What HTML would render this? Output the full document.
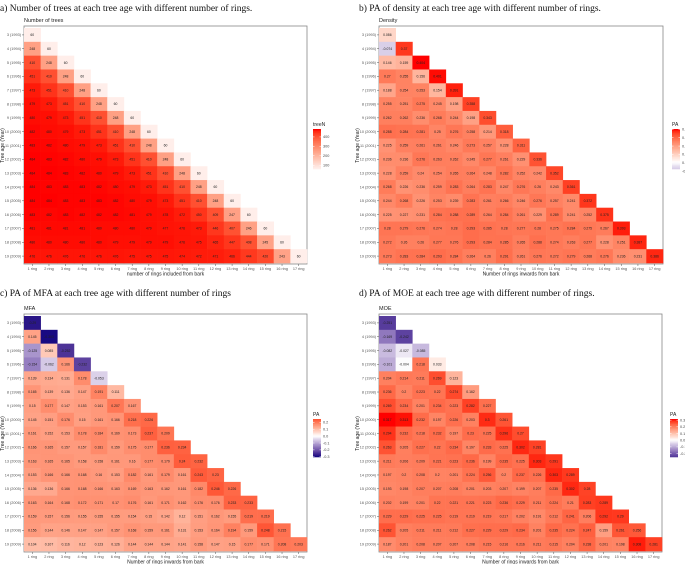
<!DOCTYPE html>
<html><head><meta charset="utf-8"><style>
html,body{margin:0;padding:0;background:#fff;}
svg{display:block;font-family:"Liberation Sans",sans-serif;}
.ttl{font-family:"Liberation Serif",serif;font-size:9.5px;fill:#111;}
</style></head><body>
<svg id="chart" width="685" height="564" viewBox="0 0 685 564" xmlns="http://www.w3.org/2000/svg"></svg>
<script>
const rowLabels=["3 (1993)","4 (1994)","5 (1995)","6 (1996)","7 (1997)","8 (1998)","9 (1999)","10 (2000)","11 (2001)","12 (2002)","13 (2003)","14 (2004)","15 (2005)","16 (2006)","17 (2007)","18 (2008)","19 (2009)"];
const colLabels=["1 ring","2 ring","3 ring","4 ring","5 ring","6 ring","7 ring","8 ring","9 ring","10 ring","11 ring","12 ring","13 ring","14 ring","15 ring","16 ring","17 ring"];
const treeN=[[60],[248,60],[410,248,60],[451,410,248,60],[473,451,410,248,60],[479,473,451,410,248,60],[480,479,473,451,410,248,60],[482,480,479,473,451,410,248,60],[483,482,480,479,473,451,410,248,60],[484,483,482,480,479,473,451,410,248,60],[484,484,483,482,480,479,473,451,410,248,60],[484,483,483,483,482,480,479,473,451,410,248,60],[484,484,483,483,483,482,480,479,473,451,410,248,60],[483,482,483,482,482,482,481,479,478,472,450,409,247,60],[481,481,481,481,480,480,480,479,477,476,473,446,407,246,60],[480,480,480,480,480,479,479,479,479,476,475,465,447,408,245,60],[476,476,476,476,476,476,475,475,475,474,472,471,466,444,420,243,60]];
const densityPA=[[0.086],[-0.074,0.37],[0.146,0.159,0.404],[0.27,0.255,0.156,0.401],[0.188,0.254,0.253,0.154,0.391],[0.255,0.251,0.275,0.245,0.198,0.358],[0.262,0.262,0.236,0.268,0.244,0.198,0.343],[0.288,0.284,0.281,0.25,0.276,0.258,0.214,0.318],[0.225,0.259,0.261,0.261,0.246,0.273,0.257,0.228,0.311],[0.236,0.236,0.276,0.263,0.262,0.245,0.277,0.261,0.229,0.336],[0.228,0.259,0.24,0.254,0.265,0.264,0.248,0.282,0.252,0.242,0.352],[0.268,0.226,0.236,0.259,0.283,0.264,0.283,0.247,0.276,0.26,0.243,0.361],[0.244,0.268,0.226,0.253,0.239,0.283,0.261,0.266,0.246,0.276,0.257,0.241,0.372],[0.225,0.227,0.231,0.284,0.288,0.289,0.264,0.284,0.261,0.229,0.289,0.241,0.252,0.375],[0.28,0.279,0.276,0.274,0.28,0.293,0.285,0.28,0.277,0.28,0.275,0.284,0.275,0.267,0.393],[0.272,0.26,0.26,0.277,0.276,0.293,0.284,0.285,0.265,0.288,0.274,0.263,0.277,0.228,0.251,0.387],[0.273,0.283,0.284,0.293,0.284,0.264,0.26,0.291,0.261,0.276,0.272,0.279,0.268,0.276,0.236,0.231,0.386]];
const mfaPA=[[-0.29],[0.145,-0.303],[-0.125,0.085,-0.252],[-0.154,-0.062,0.166,-0.232],[0.139,0.134,0.131,0.178,-0.053],[0.165,0.139,0.136,0.147,0.191,0.111],[0.15,0.177,0.147,0.153,0.161,0.207,0.167],[0.145,0.151,0.176,0.15,0.161,0.166,0.218,0.226],[0.161,0.152,0.153,0.178,0.184,0.169,0.173,0.237,0.209],[0.166,0.165,0.157,0.157,0.181,0.159,0.175,0.177,0.236,0.234],[0.163,0.165,0.165,0.158,0.158,0.161,0.16,0.177,0.179,0.24,0.232],[0.153,0.166,0.166,0.168,0.16,0.153,0.182,0.161,0.179,0.161,0.243,0.23],[0.136,0.136,0.166,0.168,0.166,0.163,0.169,0.163,0.162,0.161,0.182,0.246,0.226],[0.163,0.164,0.168,0.172,0.171,0.17,0.176,0.161,0.171,0.162,0.176,0.176,0.233,0.233],[0.159,0.157,0.156,0.155,0.155,0.155,0.154,0.15,0.142,0.12,0.151,0.162,0.155,0.219,0.219],[0.156,0.144,0.146,0.147,0.147,0.157,0.168,0.159,0.161,0.131,0.153,0.164,0.194,0.159,0.248,0.215],[0.104,0.107,0.116,0.12,0.123,0.126,0.144,0.144,0.144,0.141,0.158,0.147,0.15,0.177,0.171,0.208,0.203]];
const moePA=[[-0.251],[-0.169,-0.242],[-0.082,-0.027,-0.085],[-0.101,-0.004,0.218,0.033],[0.204,0.214,0.211,0.269,0.123],[0.236,0.2,0.223,0.22,0.274,0.162],[0.269,0.234,0.201,0.234,0.223,0.282,0.227],[0.317,0.313,0.232,0.197,0.226,0.203,0.3,0.261],[0.294,0.232,0.218,0.232,0.197,0.23,0.225,0.296,0.27],[0.263,0.205,0.227,0.22,0.234,0.197,0.233,0.225,0.302,0.281],[0.211,0.206,0.209,0.221,0.223,0.236,0.199,0.235,0.225,0.303,0.291],[0.197,0.2,0.208,0.2,0.201,0.224,0.256,0.2,0.237,0.226,0.303,0.289],[0.193,0.198,0.207,0.207,0.208,0.201,0.203,0.207,0.199,0.207,0.235,0.302,0.28],[0.202,0.199,0.201,0.22,0.221,0.221,0.223,0.236,0.229,0.211,0.224,0.21,0.283,0.289],[0.229,0.229,0.225,0.225,0.219,0.219,0.219,0.217,0.202,0.191,0.212,0.241,0.206,0.292,0.29],[0.262,0.205,0.211,0.211,0.212,0.227,0.229,0.229,0.234,0.201,0.235,0.224,0.247,0.159,0.261,0.256],[0.187,0.201,0.208,0.207,0.207,0.208,0.215,0.216,0.216,0.211,0.215,0.204,0.238,0.201,0.198,0.308,0.281]];
const treeTicks=[400,300,200,100];
const paTicksB=["0.4","0.3","0.2","0.1","0.0","-0.1"];
const paTicksC=["0.2","0.1","0.0","-0.1","-0.2","-0.3"];
const paTicksD=["0.3","0.2","0.1","0.0","-0.1","-0.2"];

const NS="http://www.w3.org/2000/svg";
const svg=document.getElementById('chart');
function el(tag,attrs,parent,text){const e=document.createElementNS(NS,tag);for(const k in attrs)e.setAttribute(k,attrs[k]);if(text!==undefined)e.textContent=text;(parent||svg).appendChild(e);return e;}
// Lab interpolation
function s2l(c){c/=255;return c<=0.04045?c/12.92:Math.pow((c+0.055)/1.055,2.4);}
function l2s(c){c=c<=0.0031308?12.92*c:1.055*Math.pow(c,1/2.4)-0.055;return Math.round(Math.max(0,Math.min(1,c))*255);}
function toLab(rgb){const [r,g,b]=rgb.map(s2l);let x=(0.4124*r+0.3576*g+0.1805*b)/0.95047,y=0.2126*r+0.7152*g+0.0722*b,z=(0.0193*r+0.1192*g+0.9505*b)/1.08883;const f=t=>t>0.008856?Math.cbrt(t):7.787*t+16/116;const fx=f(x),fy=f(y),fz=f(z);return [116*fy-16,500*(fx-fy),200*(fy-fz)];}
function fromLab(L){const fy=(L[0]+16)/116,fx=fy+L[1]/500,fz=fy-L[2]/200;const fi=t=>t*t*t>0.008856?t*t*t:(t-16/116)/7.787;const x=fi(fx)*0.95047,y=fi(fy),z=fi(fz)*1.08883;const r=3.2406*x-1.5372*y-0.4986*z,g=-0.9689*x+1.8758*y+0.0415*z,b=0.0557*x-0.2040*y+1.0570*z;return 'rgb('+l2s(r)+','+l2s(g)+','+l2s(b)+')';}
function mix(c1,c2,t){t=Math.max(0,Math.min(1,t));const a=toLab(c1),b=toLab(c2);return fromLab([0,1,2].map(i=>a[i]+(b[i]-a[i])*t));}
const WHITE=[255,255,255],RED=[255,0,0],BLUE=[24,10,130],PALE=[255,238,234];

function panel(cfg){
  const g=el('g',{});
  
  
  const t=el('text',{x:cfg.tx,y:cfg.ty,class:'ttl'},g,cfg.title);
  
  
  const st=el('text',{x:cfg.x0,y:cfg.y0-6,'font-size':'5.5',fill:'#222'},g,cfg.sub);
  
  
  const cw=(cfg.x1-cfg.x0)/colLabels.length, ch=(cfg.y1-cfg.y0)/rowLabels.length;
  const xs=i=>cfg.x0+i*cw, ys=j=>cfg.y0+j*ch;
  const fr=el('rect',{x:cfg.x0,y:cfg.y0-2,width:cfg.x1-cfg.x0,height:cfg.y1-cfg.y0+3,fill:'#fff',stroke:'#888','stroke-width':'0.8'},g);
  
  
  cfg.data.forEach((row,j)=>{row.forEach((v,i)=>{
    const c=el('rect',{x:xs(i),y:ys(j),width:cw+0.3,height:ch+0.3,fill:cfg.color(v)},g);
    
    
    const tx=el('text',{x:xs(i)+cw/2,y:ys(j)+ch/2+1.2,'font-size':'3.4','text-anchor':'middle',fill:'#222'},g,String(v));
    
    
  });});
  rowLabels.forEach((l,j)=>{
    const y=ys(j)+ch/2;
    el('line',{x1:cfg.x0-2,x2:cfg.x0,y1:y,y2:y,stroke:'#555','stroke-width':'0.5'},g);
    const tx=el('text',{x:cfg.x0-3,y:y+1.3,'font-size':'3.8','text-anchor':'end',fill:'#555'},g,l);
    
    
  });
  colLabels.forEach((l,i)=>{
    const x=xs(i)+cw/2;
    el('line',{x1:x,x2:x,y1:cfg.y1+1,y2:cfg.y1+3,stroke:'#555','stroke-width':'0.5'},g);
    const tx=el('text',{x:x,y:cfg.y1+7,'font-size':'3.8','text-anchor':'middle',fill:'#555'},g,l);
    
    
  });
  const xt=el('text',{x:(cfg.x0+cfg.x1)/2,y:cfg.y1+12.5,'font-size':'5','text-anchor':'middle',fill:'#222'},g,cfg.xtitle);
  
  
  const yt=el('text',{x:0,y:0,'font-size':'5','text-anchor':'middle',fill:'#222',transform:'translate('+(cfg.x0-20)+','+((cfg.y0+cfg.y1)/2)+') rotate(-90)'},g,'Tree age (Year)');
  
  
  const lg=el('g',{},g);
  
  
  el('text',{x:cfg.lx,y:cfg.ly-3,'font-size':'5',fill:'#222'},lg,cfg.ltitle);
  const n=30,lh=cfg.lh;
  for(let k=0;k<n;k++){
    const v=cfg.lmax-(cfg.lmax-cfg.lmin)*k/(n-1);
    el('rect',{x:cfg.lx,y:cfg.ly+k*lh/n,width:8,height:lh/n+0.3,fill:cfg.color(v)},lg);
  }
  cfg.lticks.forEach(tk=>{
    const v=parseFloat(tk);
    const y=cfg.ly+(cfg.lmax-v)/(cfg.lmax-cfg.lmin)*lh;
    el('line',{x1:cfg.lx,x2:cfg.lx+1.5,y1:y,y2:y,stroke:'#fff','stroke-width':'0.5'},lg);
    el('line',{x1:cfg.lx+6.5,x2:cfg.lx+8,y1:y,y2:y,stroke:'#fff','stroke-width':'0.5'},lg);
    el('text',{x:cfg.lx+10,y:y+1.3,'font-size':'3.8',fill:'#444'},lg,tk);
  });
}
function paColor(m){return v=>v>=0?mix(WHITE,RED,v/m):mix(WHITE,BLUE,-v/m);}
function maxAbs(d){let m=0;d.forEach(r=>r.forEach(v=>{m=Math.max(m,Math.abs(v));}));return m;}
function minMax(d){let lo=1e9,hi=-1e9;d.forEach(r=>r.forEach(v=>{lo=Math.min(lo,v);hi=Math.max(hi,v);}));return [lo,hi];}

const [nLo,nHi]=minMax(treeN);
panel({name:'panel-a-number-of-trees',title:'a) Number of trees at each tree age with different number of rings.',tx:0,ty:11,sub:'Number of trees',
  x0:24,x1:307,y0:28,y1:263,data:treeN,color:v=>mix(PALE,RED,(v-nLo)/(nHi-nLo)),
  xtitle:'number of rings included from bark',lx:313,ly:129,lh:40,ltitle:'treeN',lmax:nHi,lmin:nLo,lticks:treeTicks.map(String)});
const mB=maxAbs(densityPA),rB=minMax(densityPA);
panel({name:'panel-b-density-pa',title:'b) PA of density at each tree age with different number of rings.',tx:359,ty:11,sub:'Density',
  x0:379,x1:663,y0:28,y1:263,data:densityPA,color:paColor(mB),
  xtitle:'Number of rings inwards from bark',lx:672,ly:129,lh:40,ltitle:'PA',lmax:rB[1],lmin:rB[0],lticks:paTicksB});
const mC=maxAbs(mfaPA),rC=minMax(mfaPA);
panel({name:'panel-c-mfa-pa',title:'c) PA of MFA at each tree age with different number of rings',tx:0,ty:296,sub:'MFA',
  x0:24,x1:307,y0:316,y1:551,data:mfaPA,color:paColor(mC),
  xtitle:'Number of rings inwards from bark',lx:313,ly:419,lh:38,ltitle:'PA',lmax:rC[1],lmin:rC[0],lticks:paTicksC});
const mD=maxAbs(moePA),rD=minMax(moePA);
panel({name:'panel-d-moe-pa',title:'d) PA of MOE at each tree age with different number of rings.',tx:359,ty:296,sub:'MOE',
  x0:379,x1:662,y0:316,y1:551,data:moePA,color:paColor(mD),
  xtitle:'Number of rings inwards from bark',lx:670,ly:419,lh:38,ltitle:'PA',lmax:rD[1],lmin:rD[0],lticks:paTicksD});
</script>
</body></html>
